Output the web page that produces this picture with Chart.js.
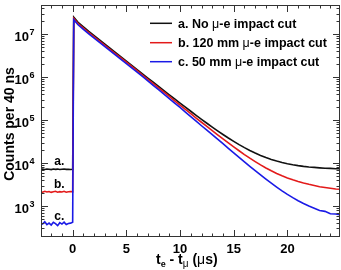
<!DOCTYPE html>
<html>
<head>
<meta charset="utf-8">
<script src="https://cdn.jsdelivr.net/npm/chart.js@4.4.1/dist/chart.umd.min.js"></script>
<style>
html,body{margin:0;padding:0;background:#fff;}
#wrap{width:341px;height:270px;}
</style>
</head>
<body>
<div id="wrap"><canvas id="c" width="341" height="270"></canvas></div>
<script>
// time bins (microseconds)
const times = [-3.0,-2.8,-2.6,-2.4,-2.2,-2.0,-1.8,-1.6,-1.4,-1.2,-1.0,-0.8,-0.6,-0.4,-0.2,0.0,
  0.1,0.5,1.0,1.5,2.0,2.5,3.0,3.5,4.0,4.5,5.0,5.5,6.0,6.5,7.0,7.5,8.0,8.5,9.0,9.5,10.0,
  10.5,11.0,11.5,12.0,12.5,13.0,13.5,14.0,14.5,15.0,15.5,16.0,16.5,17.0,17.5,18.0,18.5,
  19.0,19.5,20.0,20.5,21.0,21.5,22.0,22.5,23.0,23.5,24.0,24.5,25.0];

// a. No mu-e impact cut
const countsA = [7150,7300,7100,7250,7200,7050,7300,7150,7250,7100,7200,7300,7150,7200,7100,7200,
  2.5e7,1.9e7,1.48e7,1.163e7,9.26e6,7.376e6,5.877e6,4.681e6,3.728e6,2.972e6,2.369e6,1.887e6,
  1.505e6,1.2e6,9.57e5,7.64e5,6.1e5,4.87e5,3.89e5,3.11e5,2.49e5,2.0e5,1.61e5,1.295e5,1.046e5,
  8.47e4,6.89e4,5.63e4,4.63e4,3.83e4,3.2e4,2.69e4,2.29e4,1.97e4,1.71e4,15070,13450,12155,
  11125,10306,9653,9134,8720,8390,8127,7950,7752,7580,7513,7400,7350];

// b. 120 mm mu-e impact cut
const countsB = [2150,2100,2200,2120,2180,2080,2150,2200,2100,2160,2120,2200,2090,2150,2180,2150,
  2.33e7,1.78e7,1.39e7,1.097e7,8.73e6,6.96e6,5.54e6,4.41e6,3.51e6,2.8e6,2.23e6,1.775e6,
  1.414e6,1.124e6,8.93e5,7.09e5,5.62e5,4.49e5,3.557e5,2.817e5,2.235e5,1.775e5,1.41e5,1.121e5,
  8.93e4,7.12e4,5.69e4,4.55e4,3.66e4,2.94e4,2.38e4,1.94e4,1.58e4,1.3e4,10820,9060,7680,6606,
  5749,5067,4514,4072,3718,3433,3204,3021,2820,2700,2600,2500,2440];

// c. 50 mm mu-e impact cut
const countsC = [410,380,430,370,400,360,420,390,350,410,380,420,370,390,400,420,
  2.18e7,1.66e7,1.3e7,1.024e7,8.15e6,6.49e6,5.17e6,4.12e6,3.28e6,2.61e6,2.08e6,1.656e6,
  1.32e6,1.041e6,8.23e5,6.49e5,5.13e5,4.035e5,3.18e5,2.5e5,1.971e5,1.542e5,1.208e5,9.45e4,
  7.4e4,5.84e4,4.58e4,3.6e4,2.83e4,2.21e4,1.735e4,1.36e4,1.07e4,8430,6676,5306,4239,3412,
  2766,2263,1871,1568,1331,1146,1003,891,790,750,660,650,620];

const seriesNames = ['a. No ', 'b. 120 mm ', 'c. 50 mm '];
const seriesSuffix = '-e impact cut';
const seriesColors = ['#111111', '#e31a1a', '#1a1ae6'];
const shortLabels = ['a.', 'b.', 'c.'];
const xTickValues = [0, 5, 10, 15, 20];
const xTickLabels = ['0', '5', '10', '15', '20'];
const yTickExps = [3, 4, 5, 6, 7];
const yTitle = 'Counts per 40 ns';

const FONT = "'Liberation Sans', Arial, Helvetica, sans-serif";

function pts(vals){ return times.map((t,i)=>({x:t,y:vals[i]})); }

const decor = {
  id:'decor',
  afterDatasetsDraw(chart){
    const {ctx, chartArea:a, scales:{x,y}} = chart;
    ctx.save();
    // frame
    ctx.strokeStyle = '#333';
    ctx.lineWidth = 1;
    ctx.strokeRect(a.left+0.5, a.top+0.5, a.right-a.left-1, a.bottom-a.top-1);
    // x ticks
    ctx.beginPath();
    for(let v=-2; v<=24; v++){
      const px = Math.round(x.getPixelForValue(v))+0.5;
      const len = (v%5===0)?7:3.5;
      ctx.moveTo(px, a.bottom); ctx.lineTo(px, a.bottom-len);
      ctx.moveTo(px, a.top); ctx.lineTo(px, a.top+len);
    }
    // y ticks
    for(let d=2; d<=7; d++){
      for(let m=1; m<=9; m++){
        const v = m*Math.pow(10,d);
        if(v < y.min || v > y.max) continue;
        const py = Math.round(y.getPixelForValue(v))+0.5;
        const len = (m===1)?7:3.5;
        ctx.moveTo(a.left, py); ctx.lineTo(a.left+len, py);
        ctx.moveTo(a.right, py); ctx.lineTo(a.right-len, py);
      }
    }
    ctx.stroke();

    ctx.fillStyle = '#000';
    // x tick labels
    ctx.font = 'bold 13px ' + FONT;
    ctx.textAlign = 'center';
    ctx.textBaseline = 'alphabetic';
    xTickValues.forEach((v,i)=>{
      ctx.fillText(xTickLabels[i], x.getPixelForValue(v), a.bottom+16);
    });
    // y tick labels 10^n
    yTickExps.forEach(e=>{
      const py = y.getPixelForValue(Math.pow(10,e));
      ctx.font = 'bold 13px ' + FONT;
      ctx.textAlign = 'right';
      ctx.fillText('10', 29, py+6.5);
      ctx.font = 'bold 9px ' + FONT;
      ctx.textAlign = 'left';
      ctx.fillText(String(e), 29.5, py+1);
    });
    // y title
    ctx.save();
    ctx.translate(14, 124);
    ctx.rotate(-Math.PI/2);
    ctx.font = 'bold 14px ' + FONT;
    ctx.textAlign = 'center';
    ctx.fillText(yTitle, 0, 0);
    ctx.restore();
    // x title: t_e - t_mu (mus)
    {
      let cx = 156; const by = 264;
      ctx.textAlign = 'left';
      const part = (txt, font, dy) => { ctx.font = font; ctx.fillText(txt, cx, by+dy); cx += ctx.measureText(txt).width; };
      part('t', 'bold 14px '+FONT, 0);
      part('e', 'bold 9px '+FONT, 3);
      part(' - t', 'bold 14px '+FONT, 0);
      part('\u03bc', '10px '+FONT, 3);
      part(' (', 'bold 14px '+FONT, 0);
      part('\u03bc', '14px '+FONT, 0);
      part('s)', 'bold 14px '+FONT, 0);
    }
    // legend
    const rows = [23.3, 42.7, 61.7];
    seriesNames.forEach((nm,i)=>{
      const ly = rows[i];
      ctx.strokeStyle = seriesColors[i];
      ctx.lineWidth = 1.5;
      ctx.beginPath(); ctx.moveTo(150, ly); ctx.lineTo(172, ly); ctx.stroke();
      let cx = 178;
      const by = ly + 4.5;
      ctx.textAlign = 'left';
      const part = (txt, font) => { ctx.font = font; ctx.fillText(txt, cx, by); cx += ctx.measureText(txt).width; };
      part(nm, 'bold 12.5px '+FONT);
      part('\u03bc', '12.5px '+FONT);
      part(seriesSuffix, 'bold 12.5px '+FONT);
    });
    // a./b./c. labels above pre-zero levels
    ctx.font = 'bold 12px ' + FONT;
    ctx.textAlign = 'center';
    const preVals = [countsA[10], countsB[10], countsC[10]];
    preVals.forEach((v,i)=>{
      ctx.fillText(shortLabels[i], x.getPixelForValue(-1.25), y.getPixelForValue(v) - 4);
    });
    ctx.restore();
  }
};

new Chart(document.getElementById('c'), {
  type:'line',
  data:{
    datasets:[
      {data:pts(countsA), borderColor:seriesColors[0], order:3},
      {data:pts(countsB), borderColor:seriesColors[1], order:2},
      {data:pts(countsC), borderColor:seriesColors[2], order:1}
    ]
  },
  options:{
    responsive:false,
    animation:false,
    devicePixelRatio:1,
    layout:{padding:{left:41, right:1, top:5, bottom:33}},
    elements:{point:{radius:0}, line:{borderWidth:1.6, tension:0}},
    plugins:{legend:{display:false}, tooltip:{enabled:false}},
    scales:{
      x:{type:'linear', min:-2.95, max:24.9, display:false},
      y:{type:'logarithmic', min:190, max:4.8e7, display:false}
    }
  },
  plugins:[decor]
});
</script>
</body>
</html>
